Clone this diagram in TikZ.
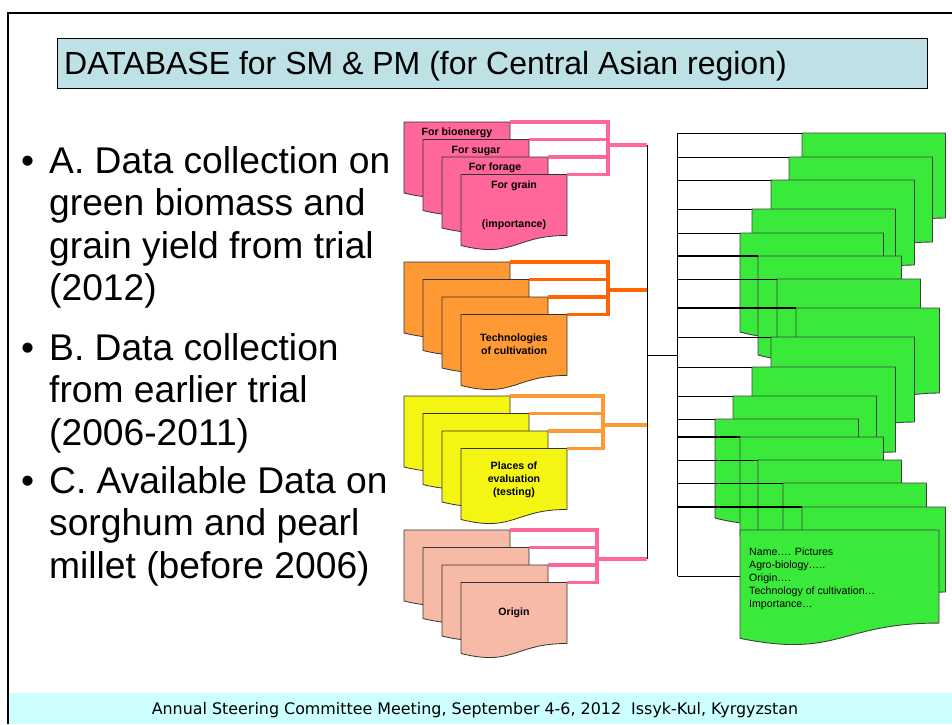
\documentclass[tikz,border=0pt]{standalone}
\usepackage{fontspec}
\setmainfont{Liberation Sans}
\newfontfamily\footfont{DejaVu Sans}

\definecolor{titlefill}{HTML}{BDE1E5}
\definecolor{footfill}{HTML}{CCFFFF}
\definecolor{cardpink}{HTML}{FF6699}
\definecolor{cardorange}{HTML}{FF9933}
\definecolor{cardyellow}{HTML}{F5F514}
\definecolor{cardsalmon}{HTML}{F6BAA6}
\definecolor{cardgreen}{HTML}{3AEA3A}
\definecolor{linkpink}{HTML}{FF6699}
\definecolor{linkorange}{HTML}{FF6600}
\definecolor{linklight}{HTML}{FF9933}

% one "document" page: top-left corner (#1,#2), width #3, height #4,
% path style #5, name suffix #6 (gives coordinates ne#6 and nw#6)
\newcommand{\docpage}[6]{%
  \begin{scope}[shift={(#1,#2)}]
    \path[#5] (0,0) -- (#3,0) -- (#3,{0.802*#4})
      .. controls ({0.5*#3},{0.802*#4}) and ({0.5*#3},{1.1075*#4}) .. (0,{0.934*#4}) -- cycle;
    \coordinate (ne#6) at (#3,0);
    \coordinate (nw#6) at (0,0);
  \end{scope}}

% a stack of four pages, the first one's top at y=#1, fill #2, names #30..#33
\newcommand{\pagestack}[3]{%
  \foreach \k in {0,1,2,3}{%
    \docpage{404+19*\k}{#1+17.5*\k}{106}{76}{lcard,fill=#2}{#3\k}}}

% comb joining the four pages of stack #1: riser at x=#2, tap at y=#3, colour #4
\newcommand{\stacklink}[4]{%
  \coordinate (tap#1) at (#2,#3);
  \draw[link,#4] (ne#10) -- (ne#10 -| tap#1) -- (ne#13 -| tap#1) -- (ne#13);
  \draw[link,#4] (ne#11) -- (ne#11 -| tap#1);
  \draw[link,#4] (ne#12) -- (ne#12 -| tap#1);
  \draw[link,#4] (tap#1) -- (tap#1 -| bus);}

\begin{document}
\begin{tikzpicture}[x=1pt,y=-1pt,
  lcard/.style={draw=black!80,line width=0.8pt,line join=round},
  gcard/.style={fill=cardgreen,draw=black!75,line width=0.9pt,line join=round},
  link/.style={line width=3.3pt,line join=miter},
  wire/.style={draw=black,line width=0.9pt},
  wirebold/.style={draw=black,line width=1.7pt},
  cardtxt/.style={font=\bfseries\fontsize{10.6}{12.9}\selectfont,align=center,inner sep=0pt},
  bullettxt/.style={font=\fontsize{37.2}{42.5}\selectfont,anchor=base west,inner sep=0pt}]

\useasboundingbox (0,0) rectangle (952,724);

% slide frame and footer band
\fill[footfill] (9,693) rectangle (952,724);
\draw[line width=2pt] (8,724) -- (8,12.5) -- (952,12.5);
\node[font=\footfont\fontsize{15.9}{18}\selectfont,anchor=base,inner sep=0pt] (footer) at (475,714)
  {Annual Steering Committee Meeting, September 4-6, 2012\ \ Issyk-Kul, Kyrgyzstan};

% title bar
\draw[fill=titlefill,line width=1pt] (57,38) rectangle (927,88);
\node[anchor=base west,inner sep=0pt,font=\fontsize{32}{36}\selectfont] (title) at (64,74.5)
  {DATABASE for SM \& PM (for Central Asian region)};

% bullet list
\foreach \by in {173,360,493}{\node[bullettxt] at (21,\by) {•};}
\node[bullettxt] (a1) at (49,173) {A. Data collection on};
\node[bullettxt] (a2) at (49,215.5) {green biomass and};
\node[bullettxt] (a3) at (49,258) {grain yield from trial};
\node[bullettxt] (a4) at (49,300.5) {(2012)};
\node[bullettxt] (b1) at (49,360) {B. Data collection};
\node[bullettxt] (b2) at (49,402.5) {from earlier trial};
\node[bullettxt] (b3) at (49,445) {(2006-2011)};
\node[bullettxt] (c1) at (49,493) {C. Available Data on};
\node[bullettxt] (c2) at (49,535.5) {sorghum and pearl};
\node[bullettxt] (c3) at (49,578) {millet (before 2006)};

% page stacks on the left
\pagestack{122}{cardpink}{pk}
\pagestack{262}{cardorange}{or}
\pagestack{396}{cardyellow}{ye}
\pagestack{530}{cardsalmon}{sa}

\node[cardtxt] (tbio) at (457,133) {For bioenergy};
\node[cardtxt] (tsug) at (476,150.5) {For sugar};
\node[cardtxt] (tfor) at (495,168) {For forage};
\node[cardtxt] (tgra) at (514,185.5) {For grain};
\node[cardtxt] (timp) at (514,225) {(importance)};
\node[cardtxt] (ttec) at (514,344) {Technologies\\of cultivation};
\node[cardtxt] (tpla) at (514,479.5) {Places of\\evaluation\\(testing)};
\node[cardtxt] (tori) at (514,613) {Origin};

% combs and the collecting bus
\coordinate (bus) at (647,355);
\coordinate (rail) at (677.5,355);
\stacklink{pk}{608}{145}{linkpink}
\stacklink{or}{608}{290}{linkorange}
\stacklink{ye}{603}{425}{linklight}
\stacklink{sa}{597}{559}{linkpink}
\draw[wire] (tappk -| bus) -- (tapsa -| bus);
\draw[wire] (bus) -- (rail);

% fan of green pages on the right
\foreach \px/\py [count=\i] in {802/133,789/157,771/180,752/209,740/233,758/256,777/279,
    796/308,771/337,752/367,733/396,715/419,740/437,758/460,783/483,802/507}{%
  \docpage{\px}{\py}{143.5}{106}{gcard}{g\i}}
\docpage{740}{530}{199}{116}{gcard}{g17}
\node[anchor=north west,align=left,inner sep=0pt,font=\fontsize{10.6}{12.8}\selectfont] (gtext) at (749,548)
  {Name…. Pictures\\Agro-biology…..\\Origin….\\Technology of cultivation…\\Importance…};

% bracket feeding the green pages
\coordinate (railend) at (677.5,576);
\foreach \i in {1,2,3,4,5,7,9,10,11,12,14,15}{\draw[wire] (nwg\i -| rail) -- (nwg\i);}
\foreach \i in {6,8,13,16}{\draw[wirebold] (nwg\i -| rail) -- (nwg\i);}
\draw[wire] (nwg1 -| rail) -- (railend);
\draw[wire] (railend) -- (railend -| nwg17);
\end{tikzpicture}
\end{document}
